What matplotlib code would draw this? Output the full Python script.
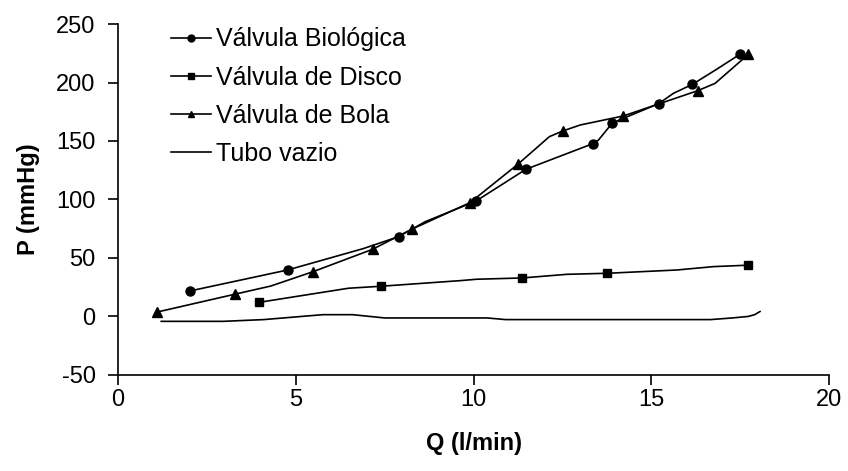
import matplotlib
matplotlib.use('Agg')
import matplotlib.pyplot as plt

plt.rcParams['font.family'] = ['Liberation Sans', 'DejaVu Sans']
plt.rcParams['axes.unicode_minus'] = False

# Válvula Biológica (markers only on measured points, extra points are line bends)
bio_q = [2.03, 4.77, 6.9, 7.89, 8.64, 10.07, 11.47, 13.35, 13.51, 13.9, 15.2, 15.62, 16.15, 16.8, 17.48]
bio_p = [21.8, 39.7, 58.0, 68.2, 81.0, 98.7, 125.8, 147.7, 150.8, 165.4, 181.9, 190.8, 198.4, 210.7, 224.0]
bio_marks = [0, 1, 3, 5, 6, 7, 9, 10, 12, 14]

# Válvula de Disco
disco_q = [3.98, 6.48, 7.39, 9.62, 10.09, 11.37, 12.62, 13.76, 15.71, 16.75, 17.71]
disco_p = [12.1, 24.1, 25.8, 30.6, 31.8, 32.9, 36.0, 36.9, 39.7, 42.6, 43.8]
disco_marks = [0, 2, 5, 7, 10]

# Válvula de Bola
bola_q = [1.11, 3.29, 4.3, 5.49, 7.16, 8.28, 9.9, 11.24, 12.13, 12.5, 13.0, 14.21, 16.3, 16.79, 17.72]
bola_p = [3.8, 19.0, 26.0, 38.3, 57.4, 74.8, 97.3, 130.0, 153.7, 158.5, 163.7, 171.4, 193.0, 199.3, 224.0]
bola_marks = [0, 1, 3, 4, 5, 6, 7, 9, 11, 12, 14]

# Tubo vazio
tubo_q = [1.22, 2.96, 4.1, 5.76, 6.6, 7.5, 10.38, 10.9, 16.66, 17.27, 17.72, 17.9, 18.05]
tubo_p = [-4.2, -4.2, -2.7, 1.5, 1.5, -1.3, -1.3, -2.7, -2.7, -1.3, 0.0, 1.5, 4.2]

fig = plt.figure(figsize=(8.48, 4.71), dpi=100)
ax = fig.add_axes([0.139, 0.204, 0.839, 0.745])

lw = 1.2
ax.plot(bio_q, bio_p, color='black', lw=lw, marker='o', markersize=6.5,
        markevery=bio_marks, label='Válvula Biológica')
ax.plot(disco_q, disco_p, color='black', lw=lw, marker='s', markersize=6,
        markevery=disco_marks, label='Válvula de Disco')
ax.plot(bola_q, bola_p, color='black', lw=lw, marker='^', markersize=7,
        markevery=bola_marks, label='Válvula de Bola')
ax.plot(tubo_q, tubo_p, color='black', lw=lw, label='Tubo vazio')

ax.set_xlim(0, 20)
ax.set_ylim(-50, 250)
ax.set_xticks([0, 5, 10, 15, 20])
ax.set_yticks([-50, 0, 50, 100, 150, 200, 250])
ax.spines['top'].set_visible(False)
ax.spines['right'].set_visible(False)
ax.spines['left'].set_linewidth(1.2)
ax.spines['bottom'].set_linewidth(1.2)
ax.tick_params(direction='out', length=7, width=1.2, labelsize=17)
ax.tick_params(axis='y', pad=9)
ax.tick_params(axis='x', pad=3)

ax.set_xlabel('Q (l/min)', fontsize=17, fontweight='bold', labelpad=15)
ax.set_ylabel('P (mmHg)', fontsize=17, fontweight='bold', labelpad=12)

leg = ax.legend(loc='upper left', bbox_to_anchor=(0.05, 1.04), frameon=False,
                fontsize=18, handlelength=1.6, handletextpad=0.2, labelspacing=0.57,
                borderpad=0.2)
for h in leg.legend_handles:
    h.set_markersize(5)

fig.savefig('out.png', dpi=100)
